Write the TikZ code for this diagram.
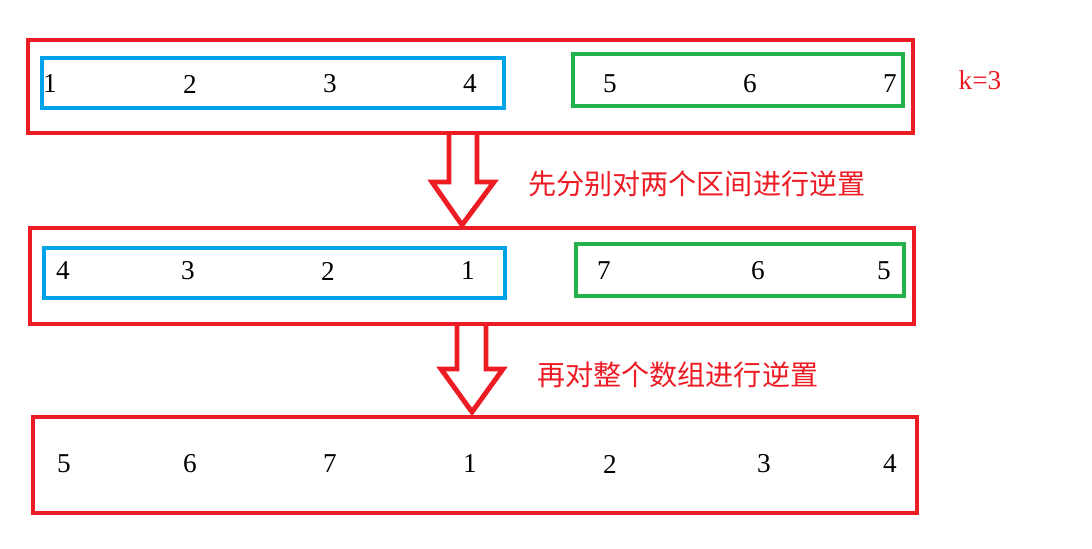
\documentclass[tikz,border=0pt]{standalone}
\usepackage{fontspec}
\setmainfont{Liberation Serif}
\newfontfamily\cjk{Noto Sans CJK SC}
\usepackage{tikz}

\definecolor{pred}{RGB}{237,28,36}
\definecolor{pblue}{RGB}{0,162,232}
\definecolor{pgreen}{RGB}{34,177,76}

\tikzset{num/.style={font=\fontsize{15.5}{18}\selectfont},
  note/.style={font=\cjk\fontsize{16}{19}\selectfont,text=pred,anchor=west},
  box/.style={line width=2.8pt}}

\begin{document}
\begin{tikzpicture}[x=0.02cm,y=-0.02cm]
\useasboundingbox (0,0) rectangle (1092,548);

%First row
\draw[box,pred] (28,40) rectangle (913,133);
\draw[box,pblue] (42,58) rectangle (504,108);
\draw[box,pgreen] (573,54) rectangle (903,106);

\node[num] (a1) at (50,84) {1};\node[num] (a2) at (190,84) {2};\node[num] (a3) at (330,84) {3};\node[num] (a4) at (470,84) {4};
\node[num] (a5) at (610,84) {5};\node[num] (a6) at (750,84) {6};\node[num] (a7) at (890,84) {7};
\node[num,text=pred] (k) at (980,80) {k=3};

%first arrow
\draw[box,pred,line join=miter] (449,133)--(449,182)--(432,182)--(462,225)--(494,182)--(477,182)--(477,133);
\node[note] (step1) at (522,184) {先分别对两个区间进行逆置};

%Second row
\draw[box,pred] (30,228) rectangle (914,324);
\draw[box,pblue] (44,248) rectangle (505,298);
\draw[box,pgreen] (576,244) rectangle (904,296);

\node[num] (b1) at (63,271) {4};\node[num] (b2) at (188,271) {3};\node[num] (b3) at (328,271) {2};\node[num] (b4) at (468,271) {1};
\node[num] (b5) at (604,271) {7};\node[num] (b6) at (758,271) {6};\node[num] (b7) at (884,271) {5};

%second arrow
\draw[box,pred,line join=miter] (457,324)--(457,369)--(441,369)--(472,412)--(503,369)--(486,369)--(486,324);
\node[note] (step2) at (531,375) {再对整个数组进行逆置};

%Third row
\draw[box,pred] (33,417) rectangle (917,513);

\node[num] (c1) at (64,464) {5};\node[num] (c2) at (190,464) {6};\node[num] (c3) at (330,464) {7};\node[num] (c4) at (470,464) {1};
\node[num] (c5) at (610,464) {2};\node[num] (c6) at (764,464) {3};\node[num] (c7) at (890,464) {4};

\end{tikzpicture}
\end{document}
